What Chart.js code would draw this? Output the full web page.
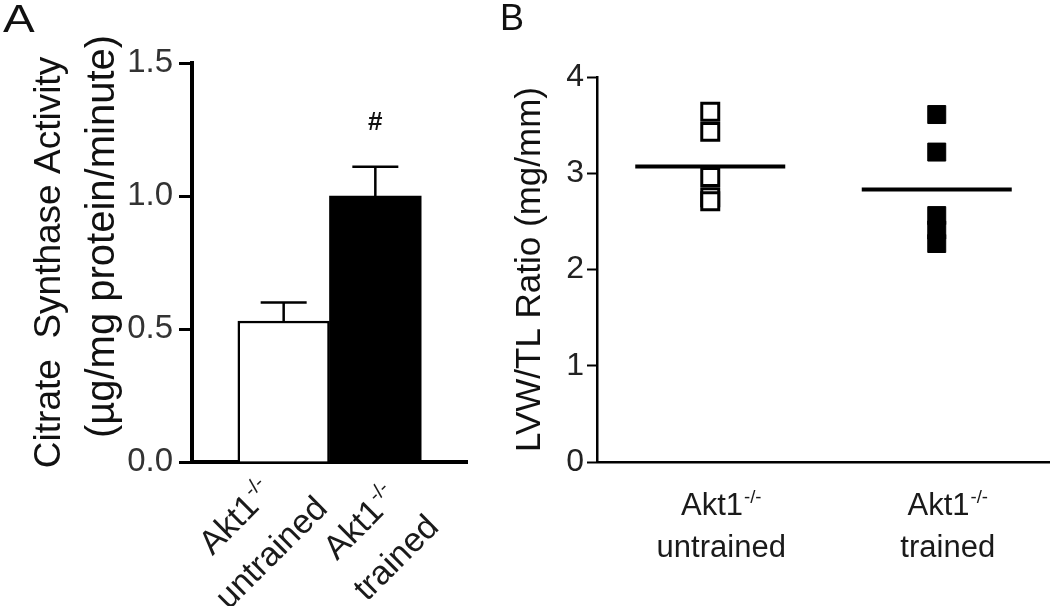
<!DOCTYPE html>
<html><head><meta charset="utf-8">
<script src="https://cdn.jsdelivr.net/npm/chart.js@4.4.1/dist/chart.umd.min.js"></script>
<style>
html,body{margin:0;padding:0;background:#fff;}
#wrap{position:relative;width:1050px;height:606px;overflow:hidden;background:#fff;}
#ca{position:absolute;left:0;top:0;}
#cb{position:absolute;left:480px;top:0;}
.pl{position:absolute;font-family:"Liberation Sans",Arial,sans-serif;color:#111;line-height:1;}
</style></head><body>
<div id="wrap">
<canvas id="ca" width="480" height="606"></canvas>
<canvas id="cb" width="570" height="606"></canvas>
<div class="pl" style="left:3px;top:0px;font-size:38px;transform:scaleX(1.25);transform-origin:left top;">A</div>
<div class="pl" style="left:500px;top:0px;font-size:36px;">B</div>
</div>
<script>
// ---------- data ----------
const genotypeLabel = 'Akt1';
const genotypeSup = '-/-';
const categoriesA = ['untrained', 'trained'];
const xPosA = [1, 2];
const citrateMean = [0.53, 1.00];
const citrateSEM = [0.07, 0.11];
const citrateSig = ['', '#'];
const yTicksA = [0, 0.5, 1.0, 1.5];
const yTitleA = ['Citrate  Synthase Activity', '(µg/mg protein/minute)'];

const categoriesB = ['untrained', 'trained'];
const lvwUntrained = [3.64, 3.43, 2.96, 2.75, 2.71];
const lvwTrained = [3.61, 3.22, 2.56, 2.41, 2.27];
const lvwMean = [3.07, 2.83];
const yTicksB = [0, 1, 2, 3, 4];
const yTitleB = 'LVW/TL Ratio (mg/mm)';

// ---------- helpers ----------
const FONT = '"Liberation Sans", Arial, sans-serif';

function drawGenotype(ctx, cx, cy, line2, size, lh, rot) {
  ctx.save();
  ctx.translate(cx, cy);
  ctx.rotate(rot);
  ctx.fillStyle = '#1a1a1a';
  ctx.textBaseline = 'alphabetic';
  ctx.textAlign = 'left';
  const supSize = size * 0.6;
  ctx.font = size + 'px ' + FONT;
  const w1 = ctx.measureText(genotypeLabel).width;
  ctx.font = supSize + 'px ' + FONT;
  const w2 = ctx.measureText(genotypeSup).width + 1;
  const b1 = -lh / 2 + 0.36 * size;
  const b2 = lh / 2 + 0.36 * size;
  const x0 = -(w1 + w2) / 2;
  ctx.font = size + 'px ' + FONT;
  ctx.fillText(genotypeLabel, x0, b1);
  ctx.font = supSize + 'px ' + FONT;
  ctx.fillText(genotypeSup, x0 + w1 + 1, b1 - 0.4 * size);
  ctx.font = size + 'px ' + FONT;
  ctx.textAlign = 'center';
  ctx.fillText(line2, 0, b2);
  ctx.restore();
}

const errorBarPlugin = {
  id: 'errorBars',
  afterDatasetsDraw(chart) {
    const ctx = chart.ctx, meta = chart.getDatasetMeta(0), ys = chart.scales.y;
    ctx.save();
    ctx.strokeStyle = '#000';
    ctx.lineWidth = 2.5;
    meta.data.forEach((bar, i) => {
      const top = ys.getPixelForValue(citrateMean[i] + citrateSEM[i]);
      ctx.beginPath();
      ctx.moveTo(bar.x, bar.y);
      ctx.lineTo(bar.x, top);
      ctx.moveTo(bar.x - 23, top);
      ctx.lineTo(bar.x + 23, top);
      ctx.stroke();
      if (citrateSig[i]) {
        ctx.fillStyle = '#111';
        ctx.font = 'bold 26px ' + FONT;
        ctx.textAlign = 'center';
        ctx.textBaseline = 'middle';
        ctx.fillText(citrateSig[i], bar.x, top - 44);
      }
    });
    ctx.restore();
  }
};

const labelShiftA = [[-31, 72], [2, 77]];
const xLabelsA = {
  id: 'xLabelsA',
  afterDraw(chart) {
    const xs = chart.scales.x, ctx = chart.ctx;
    xPosA.forEach((p, i) => {
      const cx = xs.getPixelForValue(p) + labelShiftA[i][0];
      const cy = xs.top + labelShiftA[i][1];
      drawGenotype(ctx, cx, cy, categoriesA[i], 34, 50, -Math.PI / 4);
    });
  }
};

// y title of panel A: two lines with individual sizes
const yTitleStyleA = [{ x: 50, dy: 0, size: 37 }, { x: 103, dy: -26, size: 40 }];
const yTitleAPlugin = {
  id: 'yTitleA',
  afterDraw(chart) {
    const ys = chart.scales.y, ctx = chart.ctx;
    const mid = (ys.top + ys.bottom) / 2;
    yTitleA.forEach((t, i) => {
      const st = yTitleStyleA[i];
      ctx.save();
      ctx.translate(st.x, mid + st.dy);
      ctx.rotate(-Math.PI / 2);
      ctx.fillStyle = '#111';
      ctx.font = st.size + 'px ' + FONT;
      ctx.textAlign = 'center';
      ctx.textBaseline = 'middle';
      ctx.fillText(t, 0, 0);
      ctx.restore();
    });
  }
};

const xLabelsB = {
  id: 'xLabelsB',
  afterDraw(chart) {
    const xs = chart.scales.x, ctx = chart.ctx;
    categoriesB.forEach((c, i) => {
      const cx = xs.getPixelForTick(i) + 11;
      const cy = xs.top + 63;
      drawGenotype(ctx, cx, cy, c, 31, 42, 0);
    });
  }
};

// ---------- chart A ----------
new Chart(document.getElementById('ca'), {
  type: 'bar',
  data: {
    datasets: [{
      data: xPosA.map((x, i) => ({ x: x, y: citrateMean[i] })),
      backgroundColor: ['#ffffff', '#000000'],
      borderColor: '#000',
      borderWidth: [2.5, 0],
      borderSkipped: 'bottom',
      barPercentage: 1,
      categoryPercentage: 1
    }]
  },
  options: {
    responsive: false, animation: false, events: [],
    layout: { autoPadding: false, padding: { top: 63, right: 13, left: 0, bottom: 0 } },
    plugins: { legend: { display: false }, tooltip: { enabled: false } },
    scales: {
      x: {
        type: 'linear', min: 0, max: 3, offset: false,
        afterBuildTicks(s) { s.ticks = xPosA.map(v => ({ value: v })); },
        grid: { display: false }, ticks: { display: false },
        border: { display: true, color: '#000', width: 4 },
        afterFit(s) { s.height = 144; }
      },
      y: {
        min: 0, max: 1.5,
        afterBuildTicks(s) { s.ticks = yTicksA.map(v => ({ value: v })); },
        ticks: { callback: v => Number(v).toFixed(1), font: { family: FONT, size: 33 }, color: '#333', padding: 6 },
        grid: { drawOnChartArea: false, drawTicks: true, tickLength: 13, tickWidth: 3, color: '#000' },
        border: { display: true, color: '#000', width: 4 },
        afterFit(s) { s.width = 192; }
      }
    }
  },
  plugins: [errorBarPlugin, xLabelsA, yTitleAPlugin]
});

// ---------- chart B ----------
new Chart(document.getElementById('cb'), {
  type: 'line',
  data: {
    labels: categoriesB,
    datasets: [
      {
        data: categoriesB.map((c, i) => ({ x: c, y: lvwMean[i] })),
        showLine: false, pointStyle: 'line', pointRadius: 75,
        pointBorderWidth: 4, pointBorderColor: '#000', pointBackgroundColor: '#000'
      },
      {
        data: lvwUntrained.map(v => ({ x: categoriesB[0], y: v })),
        showLine: false, pointStyle: 'rect', pointRadius: 12,
        pointBorderWidth: 3, pointBorderColor: '#000', pointBackgroundColor: '#fff'
      },
      {
        data: lvwTrained.map(v => ({ x: categoriesB[1], y: v })),
        showLine: false, pointStyle: 'rect', pointRadius: 12.7,
        pointBorderWidth: 1, pointBorderColor: '#000', pointBackgroundColor: '#000'
      }
    ]
  },
  options: {
    responsive: false, animation: false, events: [],
    layout: { autoPadding: false, padding: { top: 77, right: 0, left: 0, bottom: 0 } },
    plugins: { legend: { display: false }, tooltip: { enabled: false } },
    scales: {
      x: {
        type: 'category', offset: true,
        grid: { display: false }, ticks: { display: false },
        border: { display: true, color: '#000', width: 2.5 },
        afterFit(s) { s.height = 144; }
      },
      y: {
        min: 0, max: 4,
        afterBuildTicks(s) { s.ticks = yTicksB.map(v => ({ value: v })); },
        ticks: { font: { family: FONT, size: 32 }, color: '#222', padding: 3 },
        grid: { drawOnChartArea: false, drawTicks: true, tickLength: 10, tickWidth: 2, color: '#000' },
        border: { display: true, color: '#000', width: 2.5 },
        title: {
          display: true,
          text: yTitleB,
          font: { family: FONT, size: 35, lineHeight: 1.2 },
          color: '#111',
          padding: { top: 29, bottom: 0 }
        },
        afterFit(s) { s.width = 117; }
      }
    }
  },
  plugins: [xLabelsB]
});
</script>
</body></html>
